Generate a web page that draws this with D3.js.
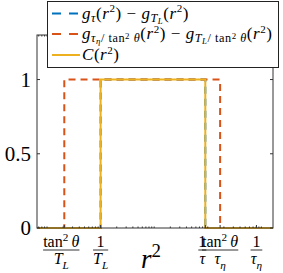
<html>
<head>
<meta charset="utf-8">
<style>
  body { margin: 0; background: #fff; }
  text { font-family: "Liberation Serif", "DejaVu Serif", serif; }
</style>
</head>
<body>
<script src="https://cdn.jsdelivr.net/npm/d3@7/dist/d3.min.js"></script>
<script>
// ---- data ----
var xDomain = [0.065, 1650];
var yDomain = [0, 1.3];
// g_tau - g_TL  (step between 1/T_L and 1/tau)
var blueX = [0.065, 1, 1, 90, 90, 1650];
var blueY = [0, 0, 1, 1, 0, 0];
// g_{tau_eta/tan^2} - g_{T_L/tan^2}  (step between tan^2/T_L and tan^2/tau_eta)
var orangeX = [0.065, 0.21, 0.21, 170, 170, 1650];
var orangeY = [0, 0, 1, 1, 0, 0];
// C(r^2)
var yellowX = [0.065, 1, 1, 90, 90, 1650];
var yellowY = [0, 0, 1, 1, 0, 0];
var xTickValues = [0.21, 1, 90, 170, 810];
var yTickValues = [0, 0.5, 1];
var yTickLabels = ["0", "0.5", "1"];

var width = 283, height = 273;
var L = 37, R = 273, T = 35, B = 228;
var col = { blue: "#0072BD", orange: "#D95319", yellow: "#EDB120", axis: "#333" };

var svg = d3.select("body").append("svg")
  .attr("width", width).attr("height", height);

var x = d3.scaleLog().domain(xDomain).range([L, R]);
var y = d3.scaleLinear().domain(yDomain).range([B, T]);

// small helper for math-like text with sub/superscripts
function rich(g, px, py, parts, size, anchor, spacing) {
  var t = g.append("text").attr("x", px).attr("y", py)
    .attr("text-anchor", anchor || "start").attr("fill", "#000");
  if (spacing) t.attr("letter-spacing", spacing);
  var cur = 0;
  parts.forEach(function(p) {
    var off = (p.o || 0) * size;
    t.append("tspan")
      .attr("dy", off - cur)
      .attr("font-size", (p.s || 1) * size)
      .attr("font-style", p.i ? "italic" : "normal")
      .text(p.t);
    cur = off;
  });
  return t;
}

function frac(g, cx, num, den, size) {
  var n = rich(g, cx, 247, num, size, "middle");
  var d = rich(g, cx, 264, den, size, "middle");
  var w = Math.max(n.node().getBBox().width, d.node().getBBox().width);
  g.append("line").attr("x1", cx - w / 2).attr("x2", cx + w / 2)
    .attr("y1", 250).attr("y2", 250).attr("stroke", "#000").attr("stroke-width", 0.8);
}

// ---- lines ----
var line = d3.line().x(function(d) { return x(d[0]); }).y(function(d) { return y(d[1]); });
function series(xs, ys) { return xs.map(function(v, i) { return [v, ys[i]]; }); }

svg.append("path").attr("d", line(series(blueX, blueY)))
  .attr("fill", "none").attr("stroke", col.blue).attr("stroke-width", 2)
  .attr("stroke-dasharray", "7,5");
svg.append("path").attr("d", line(series(orangeX, orangeY)))
  .attr("fill", "none").attr("stroke", col.orange).attr("stroke-width", 2)
  .attr("stroke-dasharray", "7,5");
svg.append("path").attr("d", line(series(yellowX, yellowY)))
  .attr("fill", "none").attr("stroke", col.yellow).attr("stroke-width", 2);

// ---- axes box ----
var ax = svg.append("g").attr("stroke", col.axis).attr("fill", "none");
ax.append("rect").attr("x", L).attr("y", T).attr("width", R - L).attr("height", B - T)
  .attr("stroke-width", 1);

// minor log ticks
var minors = [];
for (var e = -2; e <= 4; e++) for (var m = 1; m <= 9; m++) {
  var v = m * Math.pow(10, e);
  if (v > xDomain[0] && v < xDomain[1]) minors.push(v);
}
minors.forEach(function(v) {
  ax.append("line").attr("x1", x(v)).attr("x2", x(v)).attr("y1", B).attr("y2", B - 1.5);
  ax.append("line").attr("x1", x(v)).attr("x2", x(v)).attr("y1", T).attr("y2", T + 1.5);
});
xTickValues.forEach(function(v) {
  ax.append("line").attr("x1", x(v)).attr("x2", x(v)).attr("y1", B).attr("y2", B - 3);
  ax.append("line").attr("x1", x(v)).attr("x2", x(v)).attr("y1", T).attr("y2", T + 3);
});
yTickValues.forEach(function(v) {
  ax.append("line").attr("x1", L).attr("x2", L + 3).attr("y1", y(v)).attr("y2", y(v));
  ax.append("line").attr("x1", R).attr("x2", R - 3).attr("y1", y(v)).attr("y2", y(v));
});

// y tick labels
yTickValues.forEach(function(v, i) {
  svg.append("text").attr("x", 31).attr("y", y(v) + 7)
    .attr("text-anchor", "end").attr("font-size", 21).text(yTickLabels[i]);
});

// x tick labels (fractions)
var tl = svg.append("g");
var tanSq = [{ t: "tan" }, { t: "2", o: -0.4, s: 0.7 }, { t: "\u2009θ", i: true }];
frac(tl, x(xTickValues[0]) - 3, tanSq, [{ t: "T", i: true }, { t: "L", o: 0.3, s: 0.7, i: true }], 16);
frac(tl, x(xTickValues[1]), [{ t: "1" }], [{ t: "T", i: true }, { t: "L", o: 0.3, s: 0.7, i: true }], 16);
frac(tl, x(xTickValues[2]) - 3, [{ t: "1" }], [{ t: "τ", i: true }], 16);
frac(tl, x(xTickValues[3]), tanSq, [{ t: "τ", i: true }, { t: "η", o: 0.3, s: 0.7, i: true }], 16);
frac(tl, x(xTickValues[4]), [{ t: "1" }], [{ t: "τ", i: true }, { t: "η", o: 0.3, s: 0.7, i: true }], 16);

// x label
rich(svg, 151, 268, [{ t: "r", i: true }, { t: "2", o: -0.4, s: 0.7 }], 27, "middle");

// ---- legend ----
var lg = svg.append("g");
lg.append("rect").attr("x", 47.5).attr("y", 1.5).attr("width", 231).attr("height", 66)
  .attr("fill", "#fff").attr("stroke", "#222").attr("stroke-width", 1);
var legendRows = [
  { c: col.blue, dash: "9,8", y: 13.5,
    parts: [{ t: "g", i: true }, { t: "τ", o: 0.2, s: 0.72, i: true }, { t: "(" }, { t: "r", i: true }, { t: "2", o: -0.38, s: 0.65 },
            { t: ") − " }, { t: "g", i: true }, { t: "T", o: 0.2, s: 0.72, i: true }, { t: "L", o: 0.32, s: 0.52, i: true },
            { t: "(" }, { t: "r", i: true }, { t: "2", o: -0.38, s: 0.65 }, { t: ")" }] },
  { c: col.orange, dash: "9,8", y: 34,
    parts: [{ t: "g", i: true }, { t: "τ", o: 0.2, s: 0.72, i: true }, { t: "η", o: 0.32, s: 0.52, i: true },
            { t: "/ tan", o: 0.2, s: 0.72 }, { t: "2", o: 0.0, s: 0.52 }, { t: " θ", o: 0.2, s: 0.72, i: true },
            { t: "(" }, { t: "r", i: true }, { t: "2", o: -0.38, s: 0.65 }, { t: ") − " },
            { t: "g", i: true }, { t: "T", o: 0.2, s: 0.72, i: true }, { t: "L", o: 0.32, s: 0.52, i: true },
            { t: "/ tan", o: 0.2, s: 0.72 }, { t: "2", o: 0.0, s: 0.52 }, { t: " θ", o: 0.2, s: 0.72, i: true },
            { t: "(" }, { t: "r", i: true }, { t: "2", o: -0.38, s: 0.65 }, { t: ")" }] },
  { c: col.yellow, dash: null, y: 55,
    parts: [{ t: "C", i: true }, { t: "(" }, { t: "r", i: true }, { t: "2", o: -0.38, s: 0.65 }, { t: ")" }] }
];
legendRows.forEach(function(r) {
  lg.append("line").attr("x1", 52).attr("x2", 80).attr("y1", r.y).attr("y2", r.y)
    .attr("stroke", r.c).attr("stroke-width", 2).attr("stroke-dasharray", r.dash);
  rich(lg, 82, r.y + 5, r.parts, 17, "start", 0.55);
});
</script>
</body>
</html>
